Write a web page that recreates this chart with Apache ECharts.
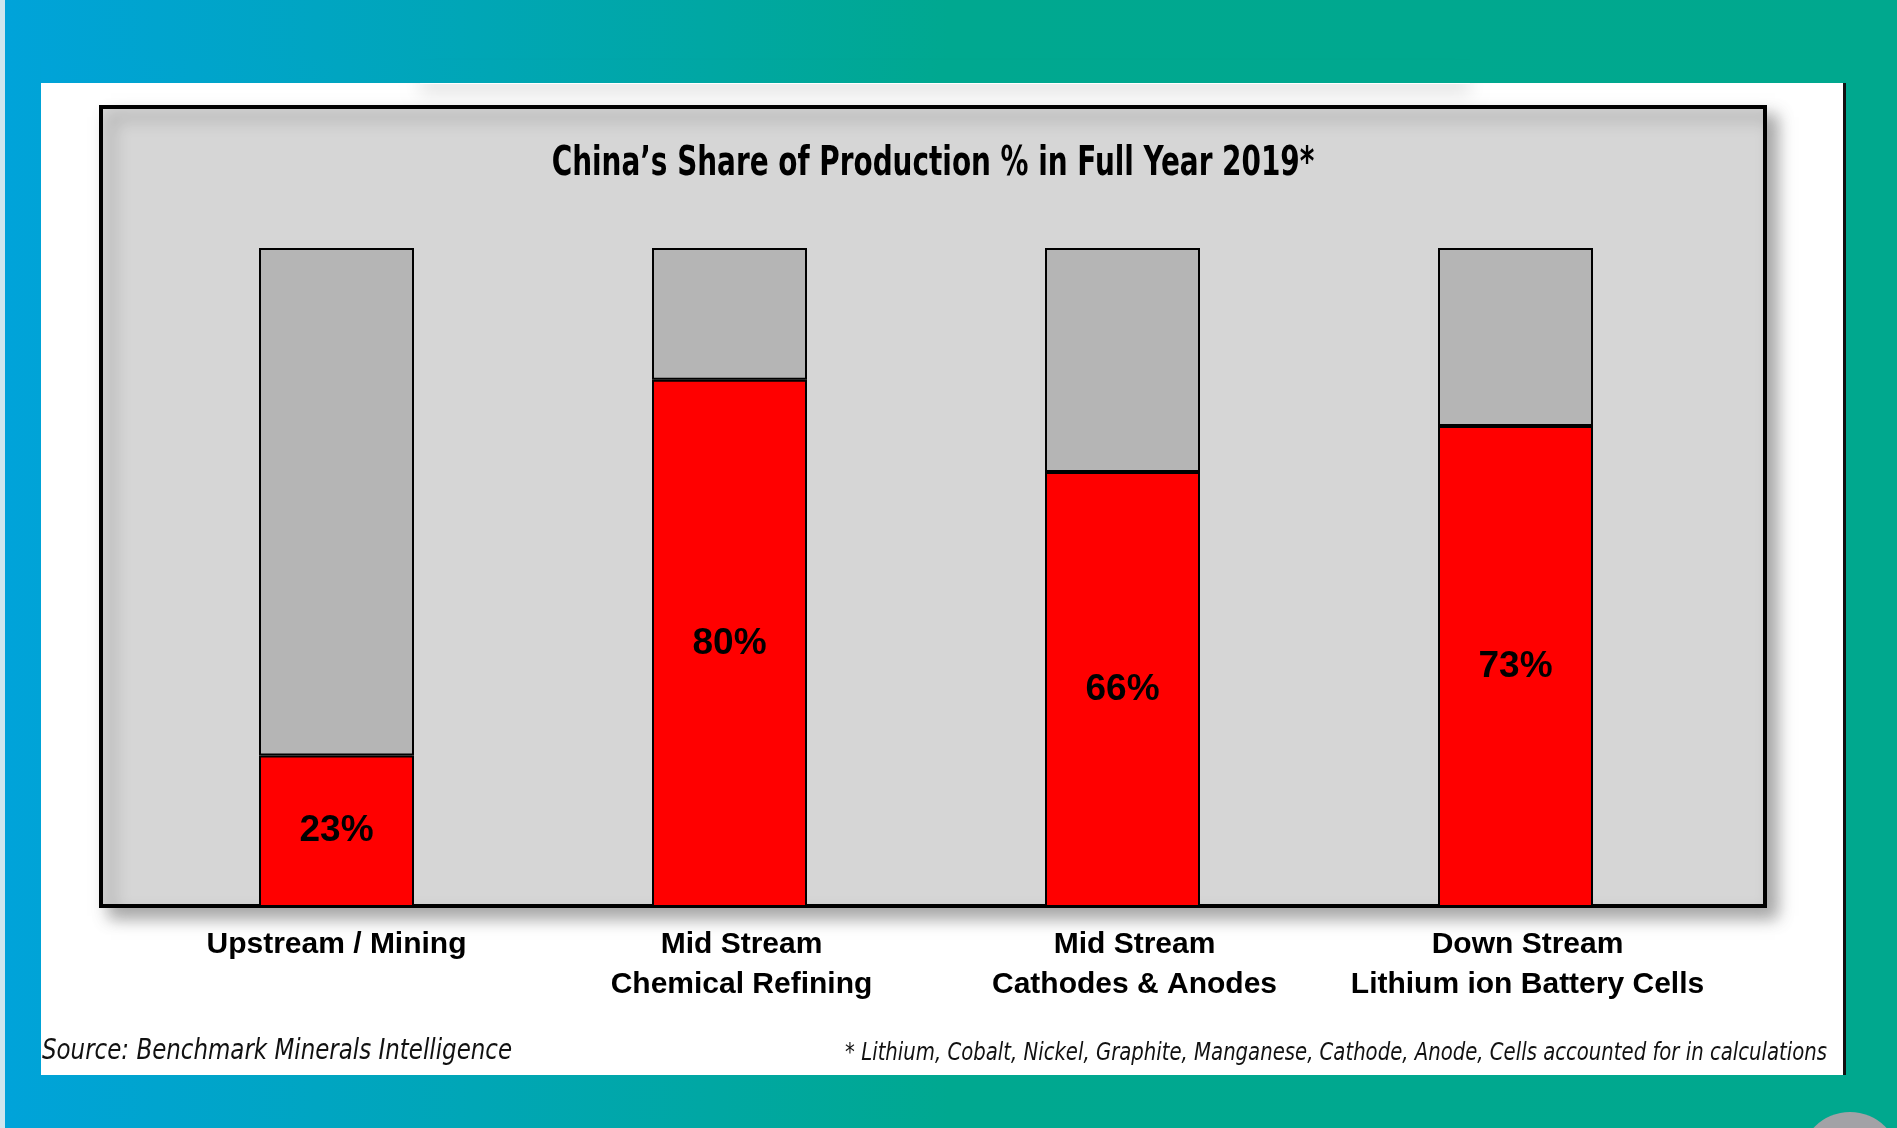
<!DOCTYPE html>
<html>
<head>
<meta charset="utf-8">
<script src="https://cdn.jsdelivr.net/npm/echarts@6/dist/echarts.min.js"></script>
<style>
  html, body { margin: 0; padding: 0; background: #ffffff; }
  #chart { width: 1897px; height: 1128px; }
</style>
</head>
<body>
<div id="chart"></div>
<script>
// Supply-chain stages (two-line labels use \n)
var stages = [
  'Upstream / Mining',
  'Mid Stream\nChemical Refining',
  'Mid Stream\nCathodes & Anodes',
  'Down Stream\nLithium ion Battery Cells'
];
// China's share of production, %
var chinaShare = [23, 80, 66, 73];
// Remaining share (rest of world), %
var restShare = [77, 20, 34, 27];

var titleText = "China\u2019s Share of Production % in Full Year 2019*";
var sourceText = 'Source: Benchmark Minerals Intelligence';
var noteText = '* Lithium, Cobalt, Nickel, Graphite, Manganese, Cathode, Anode, Cells accounted for in calculations';

var CONDENSED = '"DejaVu Sans Condensed", "DejaVu Sans", sans-serif';
var BOLDSANS = '"Liberation Sans", Arial, sans-serif';

// two-line stage labels sit a little right of their bar centre
var categoryItems = stages.map(function (name) {
  return name.indexOf('\n') >= 0
    ? { value: name, textStyle: { padding: [0, 0, 0, 24] } }
    : name;
});

var chart = echarts.init(document.getElementById('chart'), null, { renderer: 'canvas' });

chart.setOption({
  animation: false,
  backgroundColor: '#ffffff',
  graphic: [
    // gradient frame
    {
      type: 'rect', z: -30, silent: true,
      shape: { x: 0, y: 0, width: 1897, height: 1128 },
      style: {
        fill: new echarts.graphic.LinearGradient(0, 0, 1, 0, [
          { offset: 0, color: '#00A3DA' },
          { offset: 0.25, color: '#00A6B6' },
          { offset: 0.5, color: '#00A890' },
          { offset: 1, color: '#00A88E' }
        ])
      }
    },
    // thin light strip on the far left edge
    {
      type: 'rect', z: -29, silent: true,
      shape: { x: 0, y: 0, width: 5, height: 1128 },
      style: { fill: '#CFE6EE' }
    },
    // white panel
    {
      type: 'rect', z: -28, silent: true,
      shape: { x: 41, y: 83, width: 1805, height: 992 },
      style: { fill: '#ffffff' }
    },
    // dark rule on the panel's right edge
    {
      type: 'rect', z: -27, silent: true,
      shape: { x: 1843, y: 83, width: 3, height: 992 },
      style: { fill: '#111111' }
    },
    // soft shade under the header band
    {
      type: 'rect', z: -27, silent: true,
      shape: { x: 420, y: 72, width: 1050, height: 12 },
      style: {
        fill: '#ffffff',
        shadowBlur: 18, shadowOffsetY: 8, shadowColor: 'rgba(0,0,0,0.14)'
      }
    },
    {
      type: 'rect', z: -26, silent: true,
      shape: { x: 41, y: 60, width: 1802, height: 23 },
      style: {
        fill: new echarts.graphic.LinearGradient(0, 0, 1, 0, [
          { offset: 0, color: '#00A3D8' },
          { offset: 0.25, color: '#00A6B5' },
          { offset: 0.5, color: '#00A890' },
          { offset: 1, color: '#00A88E' }
        ])
      }
    },
    // chart box with drop shadow
    {
      type: 'rect', z: -20, silent: true,
      shape: { x: 101, y: 107, width: 1664, height: 799 },
      style: {
        fill: '#D6D6D6', stroke: '#000000', lineWidth: 4,
        shadowBlur: 16, shadowOffsetX: 10, shadowOffsetY: 10,
        shadowColor: 'rgba(0,0,0,0.35)'
      }
    },
    // grey disc in the lower right corner
    {
      type: 'circle', z: -25, silent: true,
      shape: { cx: 1850, cy: 1162, r: 50 },
      style: { fill: '#A2A2A6' }
    },
    // chart title (narrowed to a condensed look)
    {
      type: 'text', z: 5, silent: true,
      x: 933, y: 165, scaleX: 0.775,
      style: {
        text: titleText,
        fontFamily: CONDENSED, fontWeight: 'bold', fontSize: 40,
        fill: '#000000', align: 'center', verticalAlign: 'middle'
      }
    },
    // source note
    {
      type: 'text', z: 5, silent: true,
      x: 42, y: 1051, scaleX: 0.88,
      style: {
        text: sourceText,
        fontFamily: CONDENSED, fontStyle: 'italic', fontSize: 29,
        fill: '#111111', align: 'left', verticalAlign: 'middle'
      }
    },
    // footnote
    {
      type: 'text', z: 5, silent: true,
      x: 1827, y: 1053, scaleX: 0.875,
      style: {
        text: noteText,
        fontFamily: CONDENSED, fontStyle: 'italic', fontSize: 25,
        fill: '#111111', align: 'right', verticalAlign: 'middle'
      }
    }
  ],
  grid: { left: 140, top: 248, width: 1572, height: 659, containLabel: false },
  xAxis: {
    type: 'category',
    data: categoryItems,
    axisLine: { show: false },
    axisTick: { show: false },
    axisLabel: {
      margin: 18,
      interval: 0,
      fontFamily: BOLDSANS, fontWeight: 'bold', fontSize: 30,
      lineHeight: 40,
      color: '#000000'
    }
  },
  yAxis: {
    type: 'value', min: 0, max: 100, interval: 20,
    show: false,
    splitLine: { show: false }
  },
  series: [
    {
      name: 'China',
      type: 'bar',
      stack: 'share',
      barWidth: 155,
      data: chinaShare,
      itemStyle: { color: '#FF0000', borderColor: '#000000', borderWidth: 2 },
      label: {
        show: true,
        position: 'inside',
        formatter: '{c}%',
        fontFamily: BOLDSANS, fontWeight: 'bold', fontSize: 37,
        color: '#000000'
      }
    },
    {
      name: 'Rest of World',
      type: 'bar',
      stack: 'share',
      barWidth: 155,
      data: restShare,
      itemStyle: { color: '#B5B5B5', borderColor: '#000000', borderWidth: 2 }
    }
  ]
});
</script>
</body>
</html>
